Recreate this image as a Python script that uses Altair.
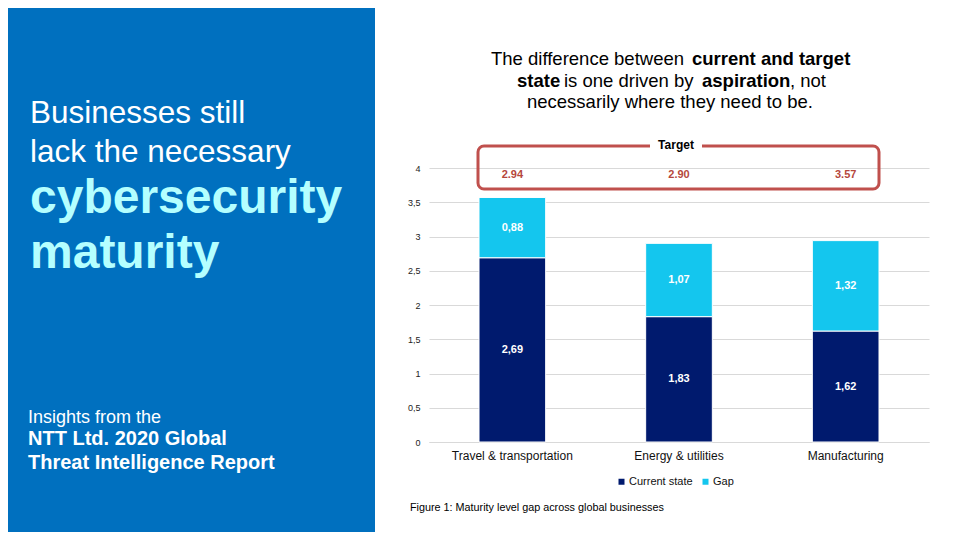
import altair as alt
import pandas as pd

FONT = "Liberation Sans"

categories = ["Travel & transportation", "Energy & utilities", "Manufacturing"]
current_state = [2.69, 1.83, 1.62]
gap = [0.88, 1.07, 1.32]
target_labels = ["2.94", "2.90", "3.57"]
series_names = ["Current state", "Gap"]
series_colors = ["#001A6E", "#14C6EE"]
y_ticks = [0, 0.5, 1, 1.5, 2, 2.5, 3, 3.5, 4]

rows = []
for i, c in enumerate(categories):
    rows.append({"category": c, "series": series_names[0], "ord": 0, "value": current_state[i]})
    rows.append({"category": c, "series": series_names[1], "ord": 1, "value": gap[i]})
df = pd.DataFrame(rows)
tdf = pd.DataFrame({"category": categories, "label": target_labels})

one = alt.Data(values=[{"a": 1}])

x_scale = alt.Scale(paddingInner=0.6, paddingOuter=0.3)
x_axis = alt.Axis(title=None, labelAngle=0, labelFontSize=12, labelFont=FONT,
                  labelColor="#111111", ticks=False, domainColor="#D9D9D9",
                  labelPadding=8)
y_scale = alt.Scale(domain=[0, 4], nice=False)
y_axis = alt.Axis(title=None, values=y_ticks, tickCount=9, grid=True,
                  gridColor="#D9D9D9", domain=False, ticks=False,
                  labelFontSize=9, labelFont=FONT, labelColor="#222222",
                  labelPadding=9, labelOverlap=False,
                  labelExpr="replace(toString(datum.value), '.', ',')")


def txt(s, x, y, size, color="black", weight="normal", align="left", baseline="alphabetic"):
    return alt.Chart(one).mark_text(
        text=s, align=align, baseline=baseline, fontSize=size, fontWeight=weight,
        color=color, font=FONT
    ).encode(x=alt.value(x), y=alt.value(y))


def box(x, x2, y, y2, **kw):
    return alt.Chart(one).mark_rect(**kw).encode(
        x=alt.value(x), x2=alt.value(x2), y=alt.value(y), y2=alt.value(y2))


panel = box(-421, -54, -160, 364, color="#0070BF")

left_texts = [
    txt("Businesses still", -399, -45, 31.5, "white"),
    txt("lack the necessary", -399, -6, 31.5, "white"),
    txt("cybersecurity", -399, 45, 48, "#B4FFFF", "bold"),
    txt("maturity", -399, 100, 48, "#B4FFFF", "bold"),
    txt("Insights from the", -401, 255, 18, "white"),
    txt("NTT Ltd. 2020 Global", -401, 277, 20, "white", "bold"),
    txt("Threat Intelligence Report", -401, 301, 20, "white", "bold"),
]

title_texts = [
    txt("The difference between", 62, -103, 18.5),
    txt("current and target", 263, -103, 18.5, weight="bold"),
    txt("state", 88, -81, 18.5, weight="bold"),
    txt("is one driven by", 135, -81, 18.5),
    txt("aspiration", 273, -81, 18.5, weight="bold"),
    txt(", not", 361, -81, 18.5),
    txt("necessarily where they need to be.", 98, -60, 18.5),
]

stacked = alt.Chart(df).transform_stack(
    stack="value", as_=["y0", "y1"], groupby=["category"],
    sort=[alt.SortField("ord", order="ascending")]
)

bars = stacked.mark_bar(stroke="white", strokeWidth=1).encode(
    x=alt.X("category:N", sort=categories, scale=x_scale, axis=x_axis),
    y=alt.Y("y0:Q", scale=y_scale, axis=y_axis),
    y2="y1:Q",
    color=alt.Color("series:N",
                    scale=alt.Scale(domain=series_names, range=series_colors),
                    legend=alt.Legend(orient="none", legendX=187, legendY=308,
                                      direction="horizontal", title=None,
                                      symbolType="square", symbolSize=36,
                                      symbolStrokeWidth=0,
                                      labelFontSize=11, labelFont=FONT, labelColor="#111111",
                                      columnPadding=7, padding=0, labelOffset=2)),
)

bar_labels = stacked.transform_calculate(
    mid="(datum.y0 + datum.y1) / 2",
    lab="replace(format(datum.value, '.2f'), '.', ',')"
).mark_text(color="white", fontWeight="bold", fontSize=11, font=FONT).encode(
    x=alt.X("category:N", sort=categories, scale=x_scale, axis=x_axis),
    y=alt.Y("mid:Q", scale=y_scale, axis=y_axis),
    text="lab:N",
)

red_box = box(49, 450, -22, 21, fill="white", fillOpacity=0, stroke="#C0504D",
              strokeWidth=3, cornerRadius=6)
target_bg = box(221, 273, -27, -17, color="white")
target_title = txt("Target", 247, -23, 12, weight="bold", align="center", baseline="middle")

target_vals = alt.Chart(tdf).mark_text(
    color="#B5473C", fontWeight="bold", fontSize=11, font=FONT, baseline="alphabetic"
).encode(
    x=alt.X("category:N", sort=categories, scale=x_scale, axis=x_axis),
    y=alt.value(10),
    text="label:N",
)

caption = txt("Figure 1: Maturity level gap across global businesses", -19, 343, 10.8)

chart = alt.layer(
    panel, *left_texts, *title_texts, bars, bar_labels, red_box, target_bg,
    target_title, target_vals, caption
).properties(
    width=500, height=274,
    autosize=alt.AutoSizeParams(type="none"),
    padding={"left": 421, "top": 160, "right": 23, "bottom": 90},
    background="white",
).configure_view(stroke=None)

chart.save("out.html", embed_options={"renderer": "svg", "actions": False})
